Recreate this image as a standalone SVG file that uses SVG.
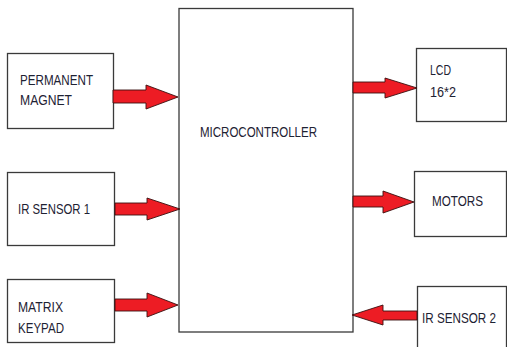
<svg xmlns="http://www.w3.org/2000/svg" width="507" height="347" viewBox="0 0 507 347">
<style>
.box{fill:#fff;stroke:#3a3a3a;stroke-width:1.3}
.t{font-family:"Liberation Sans",Arial,sans-serif;font-size:14px;fill:#1e2233}
.arr{fill:#ed1c24;stroke:#3a1010;stroke-width:0.9;stroke-linejoin:miter}
</style>
<rect width="507" height="347" fill="#fff"/>
<g id="microcontroller">
<rect class="box" x="179" y="8.5" width="174" height="323.5"/>
<text class="t" x="200" y="137" textLength="117" lengthAdjust="spacingAndGlyphs">MICROCONTROLLER</text>
</g>
<g id="permanent-magnet">
<rect class="box" x="7.5" y="53.5" width="106" height="75"/>
<text class="t" x="20" y="85" textLength="73" lengthAdjust="spacingAndGlyphs">PERMANENT</text>
<text class="t" x="20" y="105" textLength="52" lengthAdjust="spacingAndGlyphs">MAGNET</text>
</g>
<g id="ir-sensor-1">
<rect class="box" x="7.5" y="172.5" width="107" height="73"/>
<text class="t" x="18" y="214" textLength="72" lengthAdjust="spacingAndGlyphs">IR SENSOR 1</text>
</g>
<g id="matrix-keypad">
<rect class="box" x="7.5" y="279.5" width="107" height="63"/>
<text class="t" x="18" y="312" textLength="45" lengthAdjust="spacingAndGlyphs">MATRIX</text>
<text class="t" x="18" y="333" textLength="46" lengthAdjust="spacingAndGlyphs">KEYPAD</text>
</g>
<g id="lcd">
<rect class="box" x="416.5" y="48.5" width="90" height="73"/>
<text class="t" x="430" y="75" textLength="21" lengthAdjust="spacingAndGlyphs">LCD</text>
<text class="t" x="430" y="97" textLength="26" lengthAdjust="spacingAndGlyphs">16*2</text>
</g>
<g id="motors">
<rect class="box" x="414.5" y="171.5" width="92" height="65"/>
<text class="t" x="432" y="206" textLength="51" lengthAdjust="spacingAndGlyphs">MOTORS</text>
</g>
<g id="ir-sensor-2">
<rect class="box" x="417.5" y="286.5" width="89" height="70"/>
<text class="t" x="422" y="323" textLength="74" lengthAdjust="spacingAndGlyphs">IR SENSOR 2</text>
</g>
<g id="connectors">
<polygon class="arr" points="113,90 146,90 146,85 178,97 146,109 146,103 113,103"/>
<polygon class="arr" points="115,203 147,203 147,198 180,209 147,220 147,215 115,215"/>
<polygon class="arr" points="115,299 147,299 147,293 178,305 147,317 147,311 115,311"/>
<polygon class="arr" points="353,82 385,82 385,78 417,88 385,98 385,93 353,93"/>
<polygon class="arr" points="353,196 383,196 383,191 414,202 383,213 383,207 353,207"/>
<polygon class="arr" points="417,311 383,311 383,305 352,315 383,325 383,320 417,320"/>
</g>
</svg>
